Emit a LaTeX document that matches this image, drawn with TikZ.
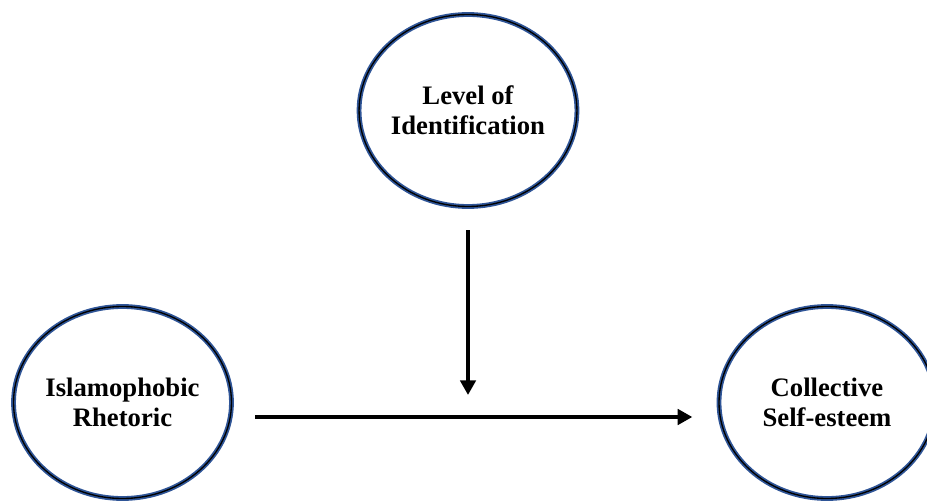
\documentclass[tikz,border=0pt]{standalone}
\usepackage{fontspec}
\setmainfont{Liberation Serif}
\usetikzlibrary{shapes.geometric,arrows.meta,calc}

\definecolor{ringblue}{RGB}{47,85,151}

\tikzset{
  var/.style={ellipse, minimum width=162pt, minimum height=144pt, inner sep=0pt, outer sep=0pt,
    draw=ringblue, line width=3.6pt, postaction={draw=black, line width=1pt},
    font=\bfseries\fontsize{20}{22.5}\selectfont, align=center},
  arr/.style={line width=3pt, -{Triangle[length=11pt,width=11.5pt]}}
}

\begin{document}
\begin{tikzpicture}[x=0.75pt,y=0.75pt,yscale=-1,xscale=1]
\path[use as bounding box] (0,0) rectangle (927,502);

% Text Node
\node[var] (iden) at (468,110.5) {Level of\\Identification};
% Text Node
\node[var] (rhet) at (122.5,402.5) {Islamophobic\\Rhetoric};
% Text Node
\node[var] (coll) at (827,402.5) {Collective\\Self-esteem};

% Connection
\coordinate (hstart) at ($(rhet.east)+(0,14.5)$);
\draw[arr, shorten <=18pt, shorten >=20pt] (hstart) -- ($(coll.west)+(0,14.5)$);
% Connection
\draw[arr, shorten <=18pt, shorten >=16.5pt] (iden.south) -- (iden.south |- hstart);

\end{tikzpicture}
\end{document}
